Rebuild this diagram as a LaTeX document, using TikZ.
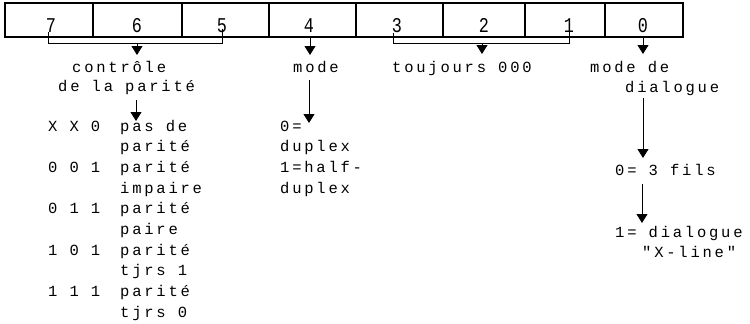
\documentclass[tikz,border=0pt]{standalone}
\usepackage{fontspec}
\newfontfamily\typefont[LetterSpace=18]{Liberation Mono}
\newfontfamily\digitfont[FakeStretch=0.8]{Liberation Mono}
\usetikzlibrary{arrows.meta}
\tikzset{
  lbl/.style={anchor=base west, inner sep=0pt, font=\typefont\fontsize{15.5}{18}\selectfont},
  dig/.style={anchor=base, inner sep=0pt, font=\digitfont\fontsize{21}{24}\selectfont},
  cell/.style={draw, line width=1.1pt, minimum height=34pt, inner sep=0pt, outer sep=0pt, anchor=north west},
  conn/.style={line width=0.9pt},
  arr/.style={conn, -{Triangle[width=11pt,length=9pt]}},
}
\begin{document}
\begin{tikzpicture}[x=1pt,y=-1pt]
\useasboundingbox (0,0) rectangle (750,324);
% register cells
\node[cell, minimum width=88pt] (c7) at (5,3) {};
\node[cell, minimum width=89pt] (c6) at (93,3) {};
\node[cell, minimum width=87pt] (c5) at (182,3) {};
\node[cell, minimum width=87pt] (c4) at (269,3) {};
\node[cell, minimum width=87pt] (c3) at (356,3) {};
\node[cell, minimum width=82pt] (c2) at (443,3) {};
\node[cell, minimum width=80pt] (c1) at (525,3) {};
\node[cell, minimum width=78pt] (c0) at (605,3) {};
% digits
\node[dig] (d7) at (51,32) {7};
\node[dig] (d6) at (137,32) {6};
\node[dig] (d5) at (222,32) {5};
\node[dig] (d4) at (309,32) {4};
\node[dig] (d3) at (397,32) {3};
\node[dig] (d2) at (484,32) {2};
\node[dig] (d1) at (569,32) {1};
\node[dig] (d0) at (643,32) {0};
% labels under the register
\node[lbl] (ctrlA) at (72,72) {contrôle};
\node[lbl] (ctrlB) at (58,91) {de la parité};
\node[lbl] (modeL) at (293,72) {mode};
\node[lbl] (tjrs) at (392,72) {toujours 000};
\node[lbl] (dialA) at (590,72) {mode de};
\node[lbl] (dialB) at (625,92) {dialogue};
% parity table
\node[lbl] (k0) at (48,131) {X X 0};
\node[lbl] (p0) at (120,131) {pas de};
\node[lbl] (p1) at (120,151.7) {parité};
\node[lbl] (k2) at (48,172.4) {0 0 1};
\node[lbl] (p2) at (120,172.4) {parité};
\node[lbl] (p3) at (120,193.1) {impaire};
\node[lbl] (k4) at (48,213.8) {0 1 1};
\node[lbl] (p4) at (120,213.8) {parité};
\node[lbl] (p5) at (120,234.5) {paire};
\node[lbl] (k6) at (48,255.2) {1 0 1};
\node[lbl] (p6) at (120,255.2) {parité};
\node[lbl] (p7) at (120,275.9) {tjrs 1};
\node[lbl] (k8) at (48,296.6) {1 1 1};
\node[lbl] (p8) at (120,296.6) {parité};
\node[lbl] (p9) at (120,317.3) {tjrs 0};
% mode values
\node[lbl] (m0) at (280,131) {0=};
\node[lbl] (m1) at (280,151.7) {duplex};
\node[lbl] (m2) at (280,172.4) {1=half-};
\node[lbl] (m3) at (280,193.1) {duplex};
% dialogue values
\node[lbl] (f0) at (615,175) {0= 3 fils};
\node[lbl] (f1) at (615,237) {1= dialogue};
\node[lbl] (f2) at (642,257) {"X-line"};
% connector coordinates
\coordinate (t7) at (48,32);
\coordinate (h7) at (48,43);
\coordinate (h5) at (222,43);
\coordinate (t5) at (222,29);
\coordinate (s765) at (137,43);
\coordinate (e765) at (137,55);
\coordinate (s4) at (310,37);
\coordinate (e4) at (310,55);
\coordinate (t3) at (393,33);
\coordinate (h3) at (393,43);
\coordinate (h1) at (569,43);
\coordinate (t1) at (569,30);
\coordinate (s321) at (482,43);
\coordinate (e321) at (482,54);
\coordinate (s0) at (643,37);
\coordinate (e0) at (643,54);
\coordinate (sPar) at (136,100);
\coordinate (ePar) at (136,121);
\coordinate (sMode) at (309,80);
\coordinate (eMode) at (309,123);
\coordinate (sDial) at (643,98);
\coordinate (eDial) at (643,158);
\coordinate (sFil) at (642,184);
\coordinate (eFil) at (642,223);
% connectors
\draw[conn] (t7) -- (h7) -- (h5) -- (t5);
\draw[arr] (s765) -- (e765);
\draw[arr] (s4) -- (e4);
\draw[conn] (t3) -- (h3) -- (h1) -- (t1);
\draw[arr] (s321) -- (e321);
\draw[arr] (s0) -- (e0);
\draw[arr] (sPar) -- (ePar);
\draw[arr] (sMode) -- (eMode);
\draw[arr] (sDial) -- (eDial);
\draw[arr] (sFil) -- (eFil);
\end{tikzpicture}
\end{document}
